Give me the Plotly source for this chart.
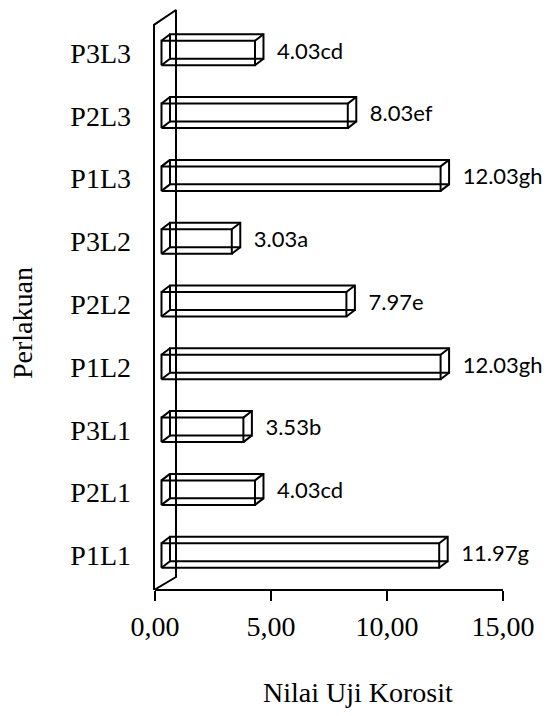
import plotly.graph_objects as go

# ---------------- data ----------------
categories = ["P1L1", "P2L1", "P3L1", "P1L2", "P2L2", "P3L2", "P1L3", "P2L3", "P3L3"]
values = [11.97, 4.03, 3.53, 12.03, 7.97, 3.03, 12.03, 8.03, 4.03]
letters = ["g", "cd", "b", "gh", "e", "a", "gh", "ef", "cd"]
x_ticks = [0, 5, 10, 15]
x_ticktext = ["0,00", "5,00", "10,00", "15,00"]
x_title = "Nilai Uji Korosit"
y_title = "Perlakuan"

# ---------------- geometry (pixel layout) ----------------
W, H = 551, 716
L, R, T, B = 150, 542, 3, 590          # plot area in pixels
PX_X = 23.2                            # pixels per x unit
PX_Y = 62.8                            # pixels per category
X0_PX = 155                            # pixel of x = 0
x_range = [(L - X0_PX) / PX_X, (R - X0_PX) / PX_X]
y_range = [-0.5, -0.5 + (B - T) / PX_Y]

# bar 3-D styling (in axis units)
bar_x0 = 0.28          # front face start
bar_half = 0.195       # half height of front face
bar_yoff = 0.05        # shift of front face centre
dep_x, dep_y = 0.366, 0.104   # depth offset of back face
label_gap = 0.95       # gap from bar front end to label
# wall (in axis units)
wall_x_front, wall_x_back = -0.043, 0.905
wall_y_bot_f, wall_y_top_f = -0.5, 8.5
wall_y_bot_b, wall_y_top_b = -0.293, 8.736

fig = go.Figure()

# wall
fig.add_trace(go.Scatter(
    x=[wall_x_front, wall_x_front, wall_x_back, wall_x_back, wall_x_front],
    y=[wall_y_bot_f, wall_y_top_f, wall_y_top_b, wall_y_bot_b, wall_y_bot_f],
    mode="lines", line=dict(color="black", width=2), hoverinfo="skip",
    showlegend=False))

# bars as 3-D wireframe boxes
bx, by = [], []
for i, v in enumerate(values):
    yc = i + bar_yoff
    x1, x2 = bar_x0, bar_x0 + v
    y1, y2 = yc - bar_half, yc + bar_half
    f = [(x1, y1), (x2, y1), (x2, y2), (x1, y2)]
    b = [(x + dep_x, y + dep_y) for x, y in f]
    for p in f + [f[0]]:
        bx.append(p[0]); by.append(p[1])
    bx.append(None); by.append(None)
    for p in b + [b[0]]:
        bx.append(p[0]); by.append(p[1])
    bx.append(None); by.append(None)
    for p, q in zip(f, b):
        bx += [p[0], q[0], None]
        by += [p[1], q[1], None]

fig.add_trace(go.Scatter(x=bx, y=by, mode="lines",
                         line=dict(color="black", width=2),
                         hoverinfo="skip", showlegend=False))

# value labels
fig.add_trace(go.Scatter(
    x=[bar_x0 + v + label_gap for v in values],
    y=[i + bar_yoff for i in range(len(values))],
    mode="text",
    text=[f"{v:.2f}{s}" for v, s in zip(values, letters)],
    textposition="middle right",
    textfont=dict(family="Lato", size=22, color="black"),
    cliponaxis=False, hoverinfo="skip", showlegend=False))

# x axis line (0 .. 15)
fig.add_shape(type="line", xref="x", yref="paper",
              x0=x_ticks[0], x1=x_ticks[-1], y0=0, y1=0,
              line=dict(color="black", width=2))

fig.update_xaxes(range=x_range, tickvals=x_ticks, ticktext=x_ticktext,
                 ticks="outside", ticklen=10, tickwidth=2, tickcolor="black",
                 showgrid=False, zeroline=False, showline=False,
                 tickfont=dict(family="Liberation Serif", size=28, color="black"),
                 ticklabelstandoff=1)
fig.update_yaxes(range=y_range,
                 tickvals=[i + bar_yoff for i in range(len(categories))],
                 ticktext=categories, ticks="", showgrid=False, zeroline=False,
                 showline=False,
                 tickfont=dict(family="Liberation Serif", size=28, color="black"),
                 ticklabelstandoff=18)

def px_x(p):
    return (p - L) / (R - L)

def px_y(p):
    return (B - p) / (B - T)

fig.add_annotation(text=x_title, xref="paper", yref="paper",
                   x=px_x(358), y=px_y(692), xanchor="center", yanchor="middle",
                   showarrow=False,
                   font=dict(family="Liberation Serif", size=28, color="black"))
fig.add_annotation(text=y_title, xref="paper", yref="paper",
                   x=px_x(22), y=px_y(323), xanchor="center", yanchor="middle",
                   textangle=-90, showarrow=False,
                   font=dict(family="Liberation Serif", size=28, color="black"))

fig.update_layout(width=W, height=H,
                  margin=dict(l=L, r=W - R, t=T, b=H - B, pad=0),
                  paper_bgcolor="white", plot_bgcolor="white")

fig.write_html("out.html")
